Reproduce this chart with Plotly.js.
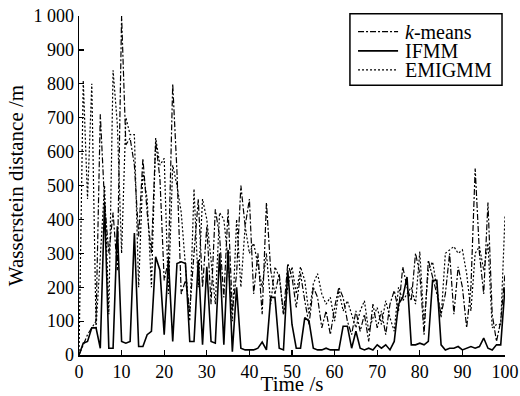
<!DOCTYPE html>
<html>
<head>
<meta charset="utf-8">
<script src="https://cdn.plot.ly/plotly-3.0.1.min.js"></script>
<style>html,body{margin:0;padding:0;background:#fff;}#chart{width:520px;height:396px;}</style>
</head>
<body>
<div id="chart"></div>
<script>
// ---- data ----
const seriesNames = ["<i>k</i>-means", "IFMM", "EMIGMM"];
const xTitle = "Time /s";
const yTitle = "Wasserstein distance /m";
const timeS = [
  0,1,2,3,4,5,6,7,8,9,
  10,11,12,13,14,15,16,17,18,19,
  20,21,22,23,24,25,26,27,28,29,
  30,31,32,33,34,35,36,37,38,39,
  40,41,42,43,44,45,46,47,48,49,
  50,51,52,53,54,55,56,57,58,59,
  60,61,62,63,64,65,66,67,68,69,
  70,71,72,73,74,75,76,77,78,79,
  80,81,82,83,84,85,86,87,88,89,
  90,91,92,93,94,95,96,97,98,99,100
];
const kmeans = [
  0,30,60,80,100,710,450,300,420,250,
  1000,620,640,560,350,580,420,300,630,520,
  220,280,800,540,180,220,130,300,460,200,
  380,150,430,350,170,430,130,240,500,380,
  460,180,300,120,450,250,180,240,120,270,
  230,140,240,160,90,200,170,80,130,60,
  140,200,170,100,60,130,70,120,40,150,
  80,130,60,150,190,130,260,200,160,300,
  240,60,280,230,180,120,180,300,120,260,
  200,80,200,550,300,180,450,120,40,100,240
];
const ifmm = [
  0,35,40,80,80,20,450,20,20,380,
  40,35,40,360,25,25,60,70,290,250,
  60,280,40,270,275,270,40,40,280,30,
  260,40,35,300,30,310,10,200,20,15,
  15,15,20,38,15,170,170,20,15,250,
  90,20,20,110,100,20,15,15,20,15,
  15,15,85,85,20,70,20,15,20,15,
  30,20,30,15,40,150,170,230,30,30,
  35,30,40,220,220,30,15,20,20,25,
  15,20,25,20,25,50,20,15,30,30,200
];
const emigmm = [
  0,810,460,800,80,300,500,120,840,680,
  300,700,650,650,200,540,460,200,640,560,
  580,180,560,500,420,260,100,490,200,460,
  400,280,150,420,400,280,100,400,200,380,
  300,330,260,200,300,150,260,230,120,200,
  260,180,260,220,120,210,240,180,150,170,
  100,190,130,160,120,80,130,160,70,110,
  140,90,160,110,70,200,160,180,200,150,
  305,90,250,275,200,110,300,310,320,300,
  310,240,130,300,320,250,330,80,90,90,410
];
const xTicks = [0,10,20,30,40,50,60,70,80,90,100];
const yTicks = [0,100,200,300,400,500,600,700,800,900,1000];
const yTickText = ["0","100","200","300","400","500","600","700","800","900","1 000"];

// ---- styles ----
const FONT = "Liberation Serif, Times New Roman, serif";
const dashes = ["6px,2px,2px,2px", "solid", "2px,2px"];
const widths = [1.2, 1.6, 1.2];
const seriesY = [kmeans, ifmm, emigmm];

const traces = seriesY.map((ys, i) => ({
  x: timeS, y: ys, type: "scatter", mode: "lines",
  name: seriesNames[i],
  line: {color: "#000", width: widths[i], dash: dashes[i]},
  showlegend: false
}));

// manual legend (tight line spacing like the reference)
const legRowsY = [0.954, 0.897, 0.841];
const shapes = [{
  type: "rect", xref: "paper", yref: "paper",
  x0: 0.636, x1: 0.993, y0: 0.796, y1: 1.007,
  line: {color: "#000", width: 1.5}, fillcolor: "#fff", layer: "above"
}];
const annotations = [];
seriesNames.forEach((n, i) => {
  shapes.push({
    type: "line", xref: "paper", yref: "paper",
    x0: 0.655, x1: 0.749, y0: legRowsY[i], y1: legRowsY[i],
    line: {color: "#000", width: widths[i], dash: dashes[i]}, layer: "above"
  });
  annotations.push({
    xref: "paper", yref: "paper", x: 0.763, y: legRowsY[i],
    xanchor: "left", yanchor: "middle", showarrow: false, borderpad: 0,
    text: n, font: {family: FONT, size: 20, color: "#000"}
  });
});

const layout = {
  width: 520, height: 396,
  margin: {l: 79, r: 15, t: 16, b: 41, pad: 0},
  paper_bgcolor: "#fff", plot_bgcolor: "#fff",
  font: {family: FONT, size: 18, color: "#000"},
  showlegend: false,
  xaxis: {
    range: [0, 100], tickvals: xTicks, ticks: "inside", ticklen: 5,
    tickwidth: 1.2, tickcolor: "#000",
    showline: true, linecolor: "#000", linewidth: 1.5, mirror: false,
    showgrid: false, zeroline: false,
    tickfont: {family: FONT, size: 18},
    title: {text: xTitle, font: {family: FONT, size: 21}, standoff: 4}
  },
  yaxis: {
    range: [0, 1000], tickmode: "array", tickvals: yTicks, ticktext: yTickText,
    ticks: "inside", ticklen: 5, tickwidth: 1.2, tickcolor: "#000",
    showline: true, linecolor: "#000", linewidth: 1.5, mirror: false,
    showgrid: false, zeroline: false,
    tickfont: {family: FONT, size: 18},
    title: {text: yTitle, font: {family: FONT, size: 21}, standoff: 4}
  },
  shapes: shapes,
  annotations: annotations
};

Plotly.newPlot("chart", traces, layout, {staticPlot: true, displayModeBar: false});
</script>
</body>
</html>
